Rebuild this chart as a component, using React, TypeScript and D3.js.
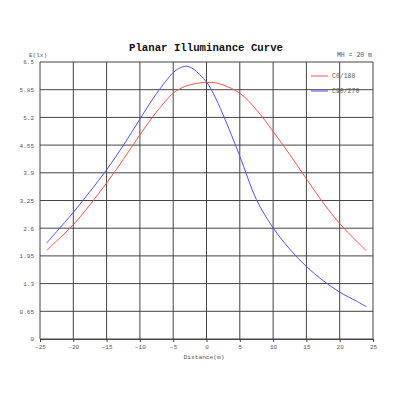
import React, { useEffect, useRef } from 'react';
import * as d3 from 'd3';

// distances along the road (m)
const distances = [-24, -22.5, -20, -17.5, -15, -12.5, -10, -7.5, -5, -4, -3, -2, -1, 0, 1, 2.5, 5, 7.5, 10, 12.5, 15, 17.5, 20, 22.5, 24];
// C0/180 plane (red)
const c0Values = [2.08, 2.3, 2.68, 3.15, 3.66, 4.21, 4.79, 5.33, 5.77, 5.87, 5.94, 5.98, 6.01, 6.02, 6.02, 5.96, 5.77, 5.38, 4.87, 4.33, 3.76, 3.2, 2.71, 2.3, 2.07];
// C90/270 plane (blue)
const c90Values = [2.25, 2.52, 2.97, 3.46, 3.97, 4.54, 5.16, 5.76, 6.25, 6.36, 6.4, 6.34, 6.2, 6.03, 5.77, 5.26, 4.29, 3.27, 2.61, 2.11, 1.7, 1.37, 1.1, 0.89, 0.76];

const xTicks = [-25, -20, -15, -10, -5, 0, 5, 10, 15, 20, 25];
const yTicks = [0, 0.65, 1.3, 1.95, 2.6, 3.25, 3.9, 4.55, 5.2, 5.85, 6.5];
const yTickLabels = ['0', '0.65', '1.3', '1.95', '2.6', '3.25', '3.9', '4.55', '5.2', '5.85', '6.5'];

const seriesNames = ['C0/180', 'C90/270'];
const seriesColors = ['#ff5050', '#5050ff'];

const mono = '"Liberation Mono", "DejaVu Sans Mono", monospace';

export default function App() {
  const svgRef = useRef<SVGSVGElement>(null);

  useEffect(() => {
    if (!svgRef.current) return;
    const width = 400;
    const height = 400;
    const margin = { top: 62, right: 27, bottom: 61, left: 40 };

    const svg = d3.select(svgRef.current);
    svg.selectAll('*').remove();
    svg.attr('width', width).attr('height', height);

    svg.append('rect').attr('width', width).attr('height', height).attr('fill', '#fff');

    const x = d3.scaleLinear().domain([-25, 25]).range([margin.left, width - margin.right]);
    const y = d3.scaleLinear().domain([0, 6.5]).range([height - margin.bottom, margin.top]);

    // grid
    const grid = svg.append('g').attr('stroke', '#444').attr('stroke-width', 1);
    grid.selectAll('line.v')
      .data(xTicks)
      .join('line')
      .attr('class', 'v')
      .attr('x1', d => x(d)).attr('x2', d => x(d))
      .attr('y1', y(0)).attr('y2', y(6.5));
    grid.selectAll('line.h')
      .data(yTicks)
      .join('line')
      .attr('class', 'h')
      .attr('x1', x(-25)).attr('x2', x(25))
      .attr('y1', d => y(d)).attr('y2', d => y(d));

    // x axis ticks + labels
    const xAxis = svg.append('g')
      .attr('transform', `translate(0,${y(0)})`)
      .call(d3.axisBottom(x).tickValues(xTicks).tickSize(3).tickSizeOuter(0).tickPadding(3));
    xAxis.select('.domain').attr('stroke', '#444');
    xAxis.selectAll('.tick line').attr('stroke', '#444');
    xAxis.selectAll('.tick text')
      .attr('fill', '#555')
      .attr('font-family', mono)
      .attr('font-size', '6px');

    // y axis labels
    const yAxis = svg.append('g')
      .attr('transform', `translate(${x(-25)},0)`)
      .call(d3.axisLeft(y).tickValues(yTicks).tickSize(0).tickPadding(6)
        .tickFormat((_, i) => yTickLabels[i]));
    yAxis.select('.domain').remove();
    yAxis.selectAll('.tick text')
      .attr('fill', '#555')
      .attr('font-family', mono)
      .attr('font-size', '6px');

    // curves
    const line = d3.line<number>()
      .x((_, i) => x(distances[i]))
      .y(d => y(d))
      .curve(d3.curveCatmullRom.alpha(0.5));

    [c0Values, c90Values].forEach((vals, i) => {
      svg.append('path')
        .datum(vals)
        .attr('fill', 'none')
        .attr('stroke', seriesColors[i])
        .attr('stroke-width', 1)
        .attr('d', line);
    });

    // legend
    const legend = svg.append('g');
    seriesNames.forEach((name, i) => {
      const ly = 76 + i * 15;
      legend.append('line')
        .attr('x1', 311).attr('x2', 328)
        .attr('y1', ly).attr('y2', ly)
        .attr('stroke', seriesColors[i]);
      legend.append('text')
        .attr('x', 332).attr('y', ly + 2)
        .attr('fill', '#555')
        .attr('font-family', mono)
        .attr('font-size', '6.5px')
        .text(name);
    });

    // titles
    svg.append('text')
      .attr('x', 206).attr('y', 51)
      .attr('text-anchor', 'middle')
      .attr('font-family', mono)
      .attr('font-weight', 'bold')
      .attr('font-size', '10.7px')
      .attr('fill', '#111')
      .text('Planar Illuminance Curve');

    svg.append('text')
      .attr('x', 372).attr('y', 57)
      .attr('text-anchor', 'end')
      .attr('font-family', mono)
      .attr('font-size', '6.5px')
      .attr('fill', '#555')
      .text('MH = 20 m');

    svg.append('text')
      .attr('x', 29).attr('y', 57)
      .attr('font-family', mono)
      .attr('font-size', '6px')
      .attr('fill', '#555')
      .text('E(lx)');

    svg.append('text')
      .attr('x', 204).attr('y', 359)
      .attr('text-anchor', 'middle')
      .attr('font-family', mono)
      .attr('font-size', '6.2px')
      .attr('fill', '#555')
      .text('Distance(m)');
  }, []);

  return (
    <div style={{ position: 'fixed', left: 0, top: 0, width: 400, height: 400, background: '#fff' }}>
      <svg ref={svgRef} style={{ display: 'block' }} />
    </div>
  );
}
